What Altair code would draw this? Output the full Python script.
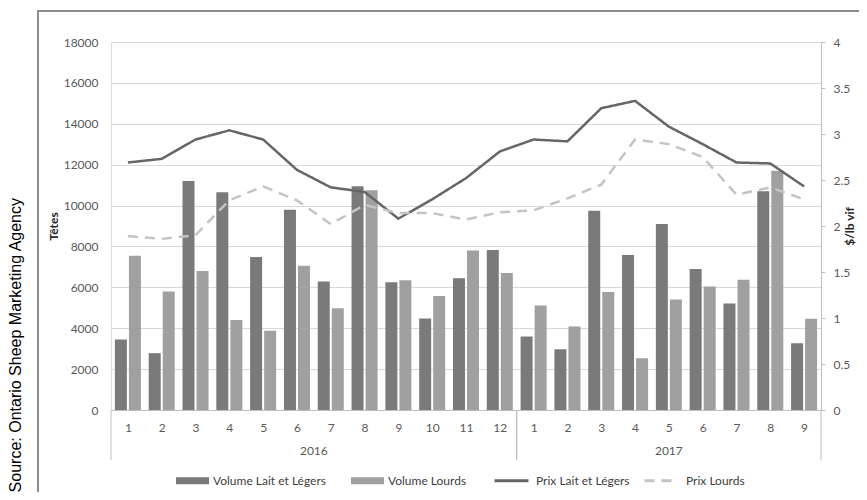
import altair as alt
import pandas as pd

# ---------------- data ----------------
years = [2016] * 12 + [2017] * 9
months = list(range(1, 13)) + list(range(1, 10))
vol_lait = [3450, 2780, 11200, 10650, 7480, 9800, 6280, 10950, 6250, 4480, 6450, 7820,
            3600, 2970, 9750, 7580, 9100, 6900, 5210, 10700, 3260]
vol_lourds = [7550, 5800, 6800, 4400, 3880, 7050, 4980, 10750, 6350, 5570, 7800, 6700,
              5110, 4090, 5770, 2530, 5410, 6040, 6370, 11700, 4460]
prix_lait = [2.69, 2.73, 2.94, 3.04, 2.94, 2.61, 2.42, 2.37, 2.08, 2.29, 2.52, 2.81,
             2.94, 2.92, 3.28, 3.36, 3.08, 2.89, 2.69, 2.68, 2.43]
prix_lourds = [1.89, 1.86, 1.90, 2.28, 2.43, 2.28, 2.02, 2.23, 2.14, 2.14, 2.07, 2.15,
               2.17, 2.30, 2.45, 2.94, 2.89, 2.75, 2.34, 2.42, 2.29]
left_ticks = [0, 2000, 4000, 6000, 8000, 10000, 12000, 14000, 16000, 18000]
right_ticks = [0, 0.5, 1, 1.5, 2, 2.5, 3, 3.5, 4]
bar_series = ["Volume Lait et Légers", "Volume Lourds"]
line_series = ["Prix Lait et Légers", "Prix Lourds"]
left_title = "Têtes"
right_title = "$/lb vif"
source_text = "Source: Ontario Sheep Marketing Agency"

# ---------------- tables ----------------
W, H = 710, 368
n = len(months)
idx = list(range(n))

bars_df = pd.DataFrame({
    "idx": idx * 2,
    "series": [bar_series[0]] * n + [bar_series[1]] * n,
    "value": vol_lait + vol_lourds,
})
lines_df = pd.DataFrame({
    "idx": idx * 2,
    "series": [line_series[0]] * n + [line_series[1]] * n,
    "price": prix_lait + prix_lourds,
})
cat_df = pd.DataFrame({"idx": idx, "year": years, "month": months})

FONT = "Lato"
LABEL_COLOR = "#595959"
month_js = "[" + ",".join("'%d'" % m for m in months) + "]"

x_scale = alt.Scale(domain=[0, n], nice=False, zero=False)
x_axis = alt.Axis(
    values=[i + 0.5 for i in idx],
    labelExpr=month_js + "[floor(datum.value)]",
    title=None, grid=False, ticks=False, tickSize=0,
    domain=True, domainColor="#bfbfbf", domainWidth=1,
    labelFont=FONT, labelFontSize=12, labelColor=LABEL_COLOR, labelPadding=12,
)

# ---------------- layers ----------------
border = alt.Chart(alt.Data(values=[{"k": 1}])).mark_rect(
    filled=False, stroke="#8c8c8c", strokeWidth=2
).encode(
    x=alt.value(-73), x2=alt.value(800), y=alt.value(-31), y2=alt.value(500)
)

bar_legend = alt.Legend(
    title=None, orient="none", legendX=65, legendY=422, direction="horizontal",
    symbolType="M-1,-0.21H1V0.21H-1Z", symbolSize=1089, symbolStrokeWidth=0,
    labelFont=FONT, labelFontSize=12, labelColor="#404040", labelOffset=4,
    columnPadding=25, padding=0,
)
bars = alt.Chart(bars_df).transform_calculate(
    x0="datum.idx + (datum.series == '%s' ? 0.115 : 0.53)" % bar_series[0],
    x1="datum.x0 + 0.355",
).mark_bar().encode(
    x=alt.X("x0:Q", scale=x_scale, axis=x_axis),
    x2="x1:Q",
    y=alt.Y("value:Q", scale=alt.Scale(domain=[0, 18000], nice=False),
            axis=alt.Axis(values=left_ticks, format="d", title=left_title, grid=True,
                          gridColor="#d9d9d9", domain=False, ticks=False, labelFont=FONT,
                          labelFontSize=12, labelColor=LABEL_COLOR, labelPadding=13,
                          titleFont=FONT, titleFontSize=12, titleFontWeight="bold",
                          titleColor="#262626", titlePadding=3)),
    y2=alt.datum(0),
    color=alt.Color("series:N", scale=alt.Scale(domain=bar_series, range=["#7a7a7a", "#a0a0a0"]),
                    legend=bar_legend),
)

line_legend = alt.Legend(
    title=None, orient="none", legendX=382, legendY=420, direction="horizontal",
    symbolType="stroke", symbolSize=1156, symbolStrokeWidth=3,
    labelFont=FONT, labelFontSize=12, labelColor="#404040", labelOffset=6,
    columnPadding=8, padding=0,
)
lines = alt.Chart(lines_df).transform_calculate(
    xc="datum.idx + 0.5"
).mark_line(strokeWidth=2.5).encode(
    x=alt.X("xc:Q", scale=x_scale, axis=x_axis),
    y=alt.Y("price:Q", scale=alt.Scale(domain=[0, 4], nice=False),
            axis=alt.Axis(orient="right", values=right_ticks, format="~g", title=right_title,
                          grid=False, domain=True, domainColor="#bfbfbf", ticks=True,
                          tickSize=4, tickColor="#bfbfbf", labelFont=FONT, labelFontSize=12,
                          labelColor=LABEL_COLOR, labelPadding=8, titleFont=FONT,
                          titleFontSize=12, titleFontWeight="bold", titleColor="#262626",
                          titleAngle=270, titleBaseline="top", titlePadding=-5)),
    stroke=alt.Stroke("series:N", scale=alt.Scale(domain=line_series, range=["#666666", "#c4c4c4"]),
                      legend=line_legend),
    strokeDash=alt.StrokeDash("series:N",
                              scale=alt.Scale(domain=line_series, range=[[1, 0], [10, 7]]),
                              legend=line_legend),
)

year_bounds = alt.Chart(cat_df).transform_aggregate(
    lo="min(idx)", hi="max(idx)", groupby=["year"]
).transform_calculate(hi1="datum.hi + 1")

seps_lo = year_bounds.mark_rule(color="#bfbfbf", strokeWidth=1).encode(
    x=alt.X("lo:Q", scale=x_scale, axis=x_axis), y=alt.value(H), y2=alt.value(H + 50)
)
seps_hi = year_bounds.mark_rule(color="#bfbfbf", strokeWidth=1).encode(
    x=alt.X("hi1:Q", scale=x_scale, axis=x_axis), y=alt.value(H), y2=alt.value(H + 50)
)
year_txt = year_bounds.transform_calculate(
    mid="(datum.lo + datum.hi + 1) / 2"
).mark_text(font=FONT, fontSize=12, color=LABEL_COLOR, baseline="middle").encode(
    x=alt.X("mid:Q", scale=x_scale, axis=x_axis), y=alt.value(H + 41), text="year:N"
)

source = alt.Chart(alt.Data(values=[{"t": source_text}])).mark_text(
    angle=270, align="right", baseline="alphabetic", font="Liberation Sans", fontSize=16,
    color="#000000"
).encode(x=alt.value(-90), y=alt.value(156), text="t:N")

chart = alt.layer(
    border, bars, lines, seps_lo, seps_hi, year_txt, source
).resolve_scale(
    y="independent", color="independent"
).properties(
    width=W, height=H,
    autosize=alt.AutoSizeParams(type="none"),
    padding={"left": 103, "top": 34, "right": 38, "bottom": 82},
).configure_view(stroke=None).configure(font=FONT)

chart.save("out.html", embed_options={"renderer": "svg", "actions": False})
